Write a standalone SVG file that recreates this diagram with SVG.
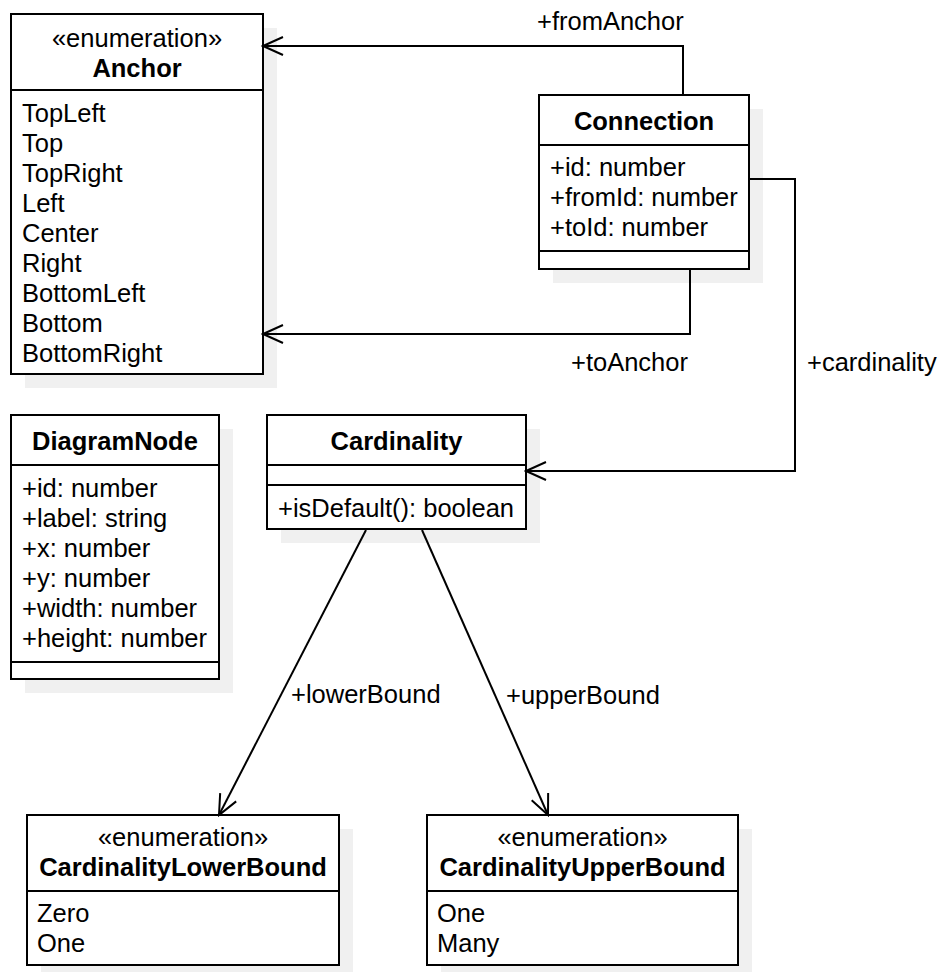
<svg xmlns="http://www.w3.org/2000/svg" width="939" height="972" viewBox="0 0 939 972">
<defs>
<marker id="open" markerUnits="userSpaceOnUse" markerWidth="24" markerHeight="24" viewBox="-22 -12 24 24" refX="0" refY="0" orient="auto">
<path d="M -20 -9 L 0 0 L -20 9" fill="none" stroke="#000" stroke-width="2"/>
</marker>
</defs>
<style>
text { font-family: "Liberation Sans", Arial, sans-serif; font-size: 25.5px; fill: #000; }
.t { font-weight: bold; text-anchor: middle; }
.s { text-anchor: middle; }
.box { fill: #fff; stroke: #000; stroke-width: 2; }
.sh { fill: #f0f0f0; stroke: none; }
.div { stroke: #000; stroke-width: 2; }
.edge { fill: none; stroke: #000; stroke-width: 2; marker-end: url(#open); }
</style>
<rect width="939" height="972" fill="#fff"/>

<g id="Anchor">
<rect class="sh" x="25" y="28" width="252" height="360"/>
<rect class="box" x="11" y="14" width="252" height="360"/>
<line class="div" x1="11" y1="90" x2="263" y2="90"/>
<text class="s" x="137" y="47">«enumeration»</text>
<text class="t" x="137" y="77">Anchor</text>
<text x="22" y="122">TopLeft</text>
<text x="22" y="152">Top</text>
<text x="22" y="182">TopRight</text>
<text x="22" y="212">Left</text>
<text x="22" y="242">Center</text>
<text x="22" y="272">Right</text>
<text x="22" y="302">BottomLeft</text>
<text x="22" y="332">Bottom</text>
<text x="22" y="362">BottomRight</text>
</g>

<g id="Connection">
<rect class="sh" x="553" y="109" width="210" height="174"/>
<rect class="box" x="539" y="95" width="210" height="174"/>
<line class="div" x1="539" y1="145" x2="749" y2="145"/>
<line class="div" x1="539" y1="251" x2="749" y2="251"/>
<text class="t" x="644" y="130">Connection</text>
<text x="550" y="176">+id: number</text>
<text x="550" y="206">+fromId: number</text>
<text x="550" y="236">+toId: number</text>
</g>

<g id="DiagramNode">
<rect class="sh" x="25" y="429" width="208" height="264"/>
<rect class="box" x="11" y="415" width="208" height="264"/>
<line class="div" x1="11" y1="465" x2="219" y2="465"/>
<line class="div" x1="11" y1="662" x2="219" y2="662"/>
<text class="t" x="115" y="450">DiagramNode</text>
<text x="22" y="497">+id: number</text>
<text x="22" y="527">+label: string</text>
<text x="22" y="557">+x: number</text>
<text x="22" y="587">+y: number</text>
<text x="22" y="617">+width: number</text>
<text x="22" y="647">+height: number</text>
</g>

<g id="Cardinality">
<rect class="sh" x="281" y="429" width="259" height="114"/>
<rect class="box" x="267" y="415" width="259" height="114"/>
<line class="div" x1="267" y1="465" x2="526" y2="465"/>
<line class="div" x1="267" y1="485" x2="526" y2="485"/>
<text class="t" x="396.5" y="450">Cardinality</text>
<text x="278" y="517">+isDefault(): boolean</text>
</g>

<g id="CardinalityLowerBound">
<rect class="sh" x="41" y="829" width="312" height="150"/>
<rect class="box" x="27" y="815" width="312" height="150"/>
<line class="div" x1="27" y1="891" x2="339" y2="891"/>
<text class="s" x="183" y="846">«enumeration»</text>
<text class="t" x="183" y="876">CardinalityLowerBound</text>
<text x="37" y="922">Zero</text>
<text x="37" y="952">One</text>
</g>

<g id="CardinalityUpperBound">
<rect class="sh" x="441" y="829" width="311" height="150"/>
<rect class="box" x="427" y="815" width="311" height="150"/>
<line class="div" x1="427" y1="891" x2="738" y2="891"/>
<text class="s" x="582.5" y="846">«enumeration»</text>
<text class="t" x="582.5" y="876">CardinalityUpperBound</text>
<text x="437" y="922">One</text>
<text x="437" y="952">Many</text>
</g>

<g id="connectors">
<path class="edge" d="M 683 95 V 46 H 263"/>
<path class="edge" d="M 690 269 V 334 H 263"/>
<path class="edge" d="M 749 179 H 795 V 471 H 526"/>
<path class="edge" d="M 366 530 L 219 815"/>
<path class="edge" d="M 422 530 L 548 815"/>
<text x="537" y="30">+fromAnchor</text>
<text x="571" y="371">+toAnchor</text>
<text x="807" y="371">+cardinality</text>
<text x="291" y="703">+lowerBound</text>
<text x="506" y="704">+upperBound</text>
</g>
</svg>
